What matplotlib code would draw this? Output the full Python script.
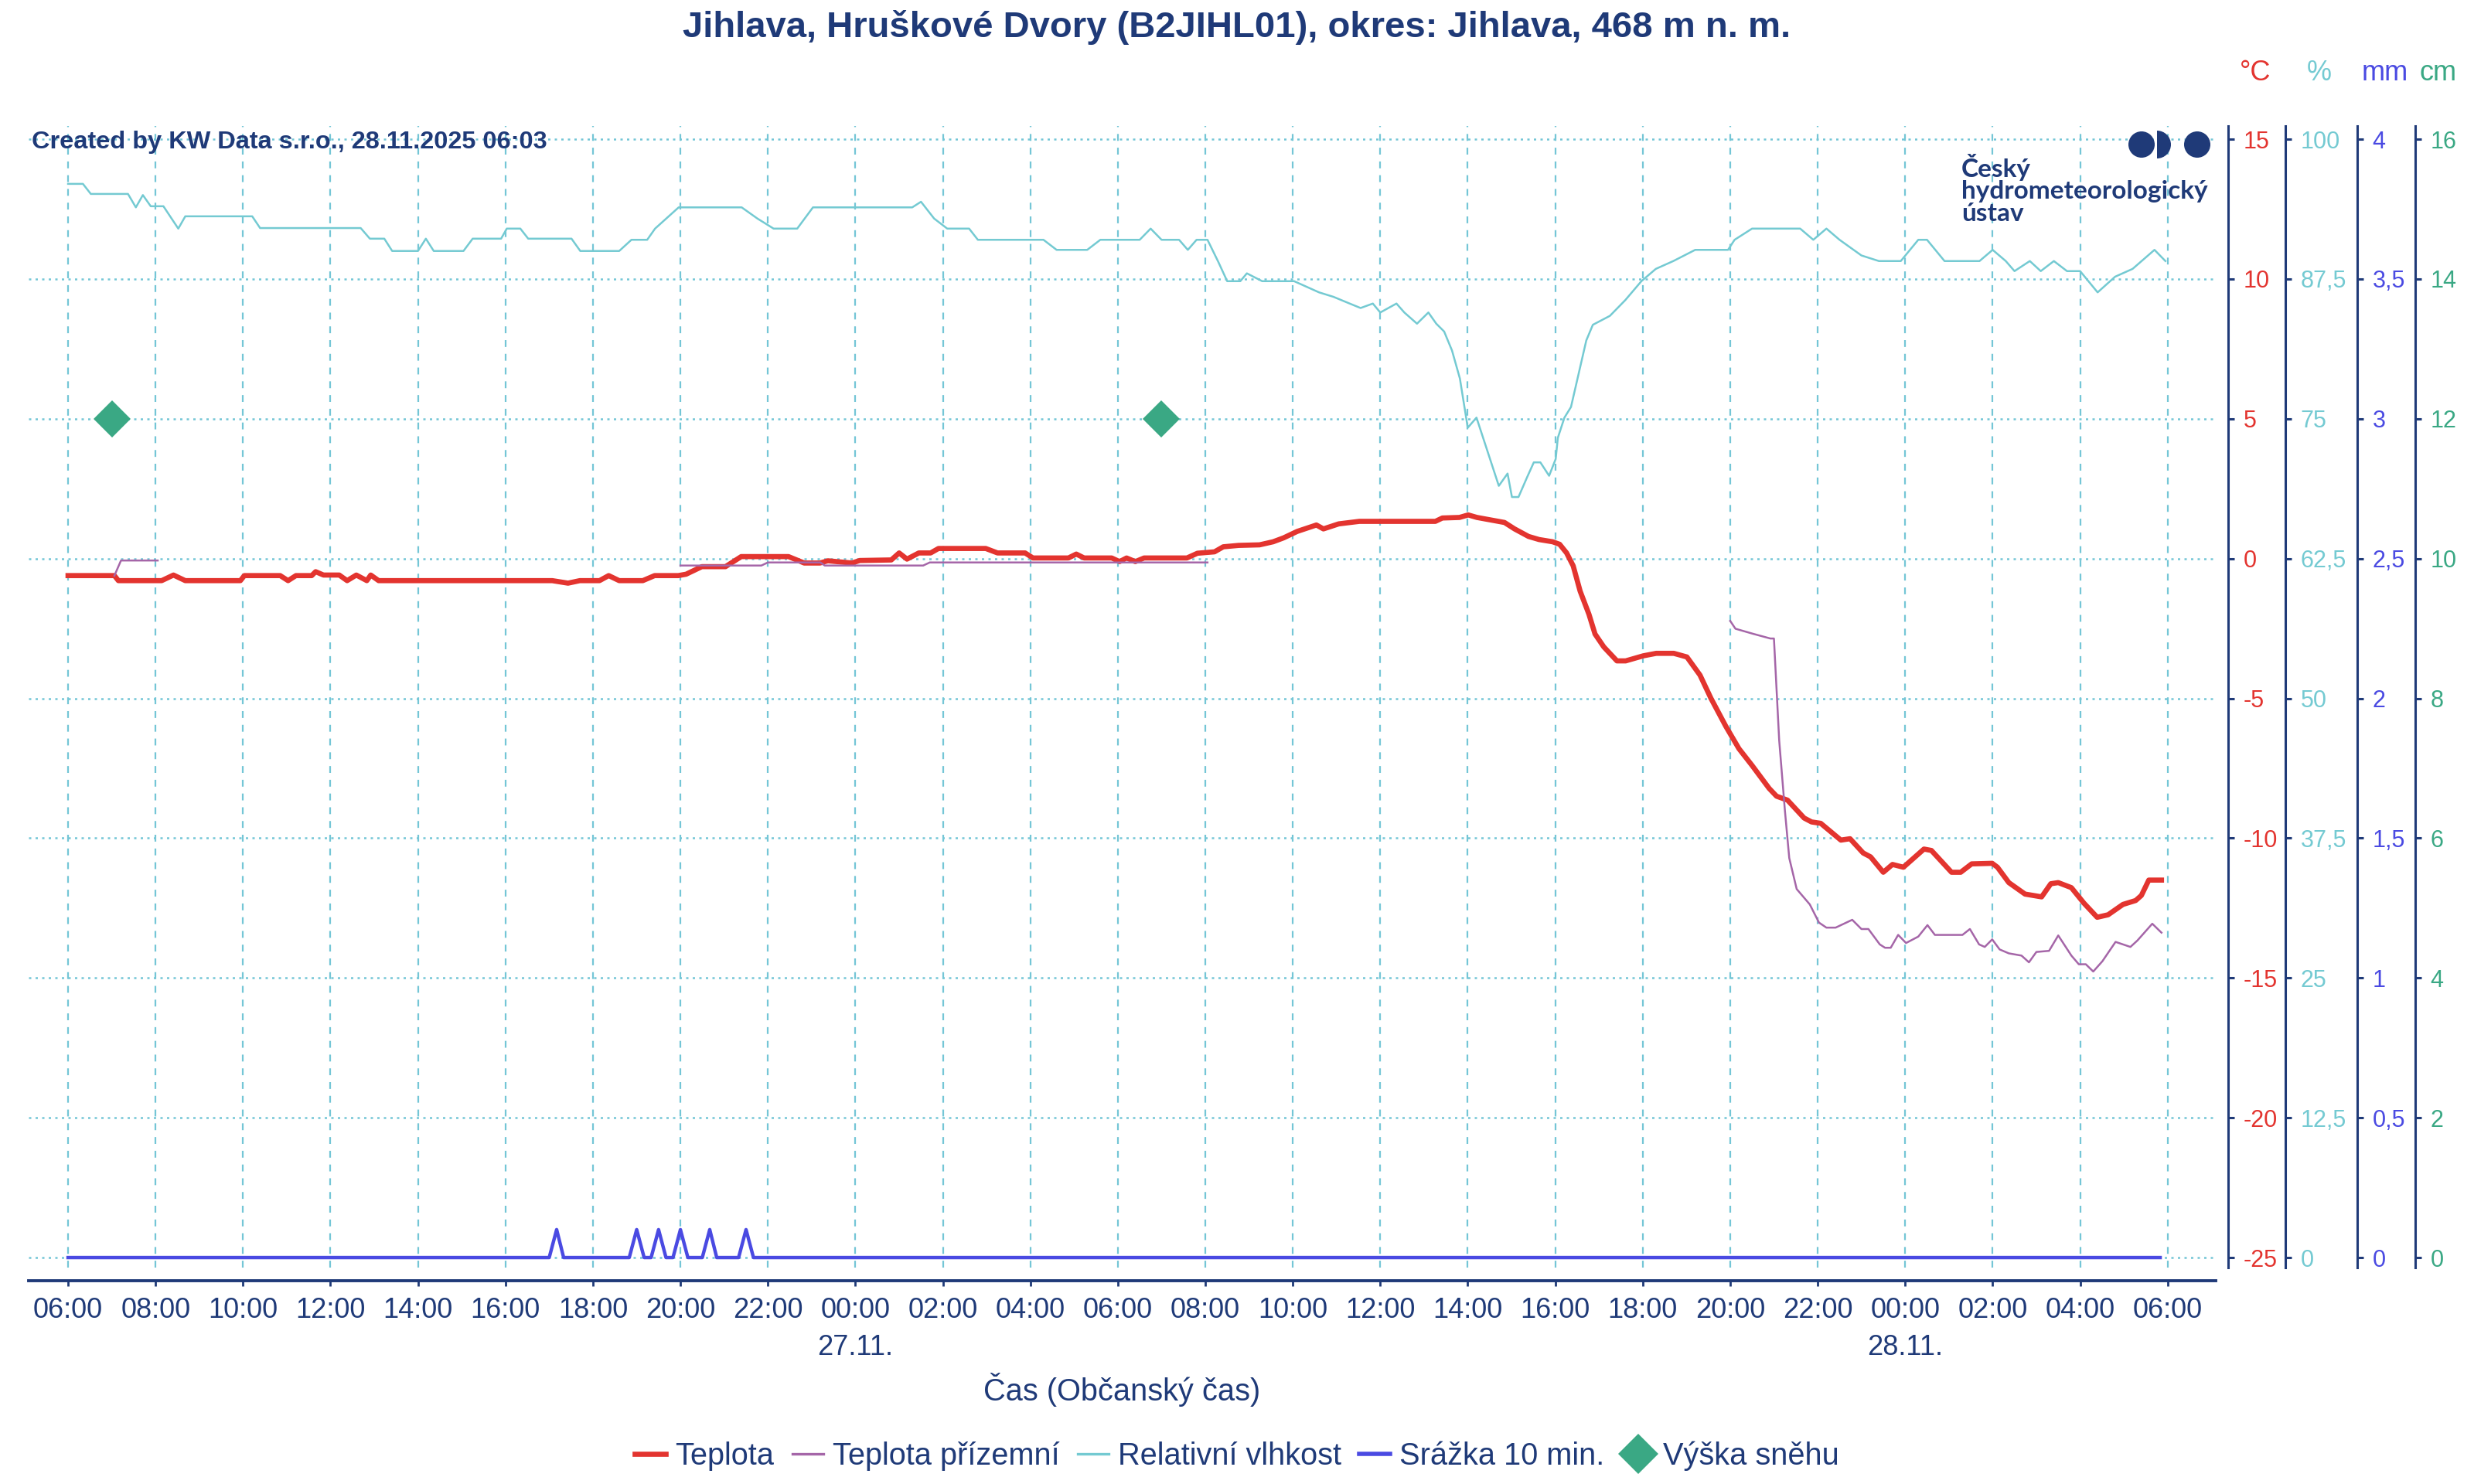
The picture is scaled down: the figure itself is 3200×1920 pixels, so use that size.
import numpy as np
import matplotlib.pyplot as plt
from matplotlib.patches import Circle, Wedge
from matplotlib.lines import Line2D
from matplotlib.ticker import FixedLocator, FuncFormatter

plt.rcParams['font.family'] = ['Liberation Sans', 'DejaVu Sans']

# time axis: hours since 26.11. 06:00
nan = float('nan')

temp_h = [0.0, 1.06, 1.15, 2.14, 2.41, 2.68, 3.94, 4.03, 4.85, 5.03, 5.21, 5.57, 5.66, 5.84, 6.20,
          6.38, 6.59, 6.83, 6.92, 7.10, 11.07, 11.43, 11.70, 12.15, 12.36, 12.60, 13.14, 13.41, 13.95,
          14.13, 14.49, 15.03, 15.39, 16.47, 16.83, 17.19, 17.37, 17.92, 18.10, 18.82, 19.00, 19.18,
          19.45, 19.72, 19.90, 20.98, 21.25, 21.88, 22.06, 22.87, 23.05, 23.23, 23.86, 24.04, 24.2,
          24.4, 24.6, 24.94, 25.58, 25.82, 26.21, 26.41, 26.76, 27.24, 27.55, 27.79, 28.10, 28.54,
          28.70, 29.05, 29.52, 31.26, 31.42, 31.81, 32.01, 32.21, 32.52, 32.84, 33.07, 33.39, 33.63,
          33.94, 34.10, 34.26, 34.41, 34.57, 34.77, 34.91, 35.11, 35.41, 35.61, 36.01, 36.31, 36.71,
          37.01, 37.31, 37.56, 37.9, 38.2, 38.5, 38.89, 39.06, 39.31, 39.69, 39.86, 40.07, 40.53,
          40.74, 41.04, 41.21, 41.50, 41.71, 41.96, 42.43, 42.60, 43.06, 43.27, 43.52, 43.99, 44.11,
          44.37, 44.74, 45.12, 45.33, 45.50, 45.80, 46.09, 46.39, 46.64, 46.98, 47.27, 47.40, 47.57,
          47.86]
temp_c = [-0.61, -0.61, -0.79, -0.79, -0.59, -0.79, -0.79, -0.61, -0.61, -0.79, -0.61, -0.61, -0.47,
          -0.59, -0.59, -0.79, -0.59, -0.79, -0.59, -0.79, -0.79, -0.88, -0.79, -0.79, -0.61, -0.79,
          -0.79, -0.61, -0.61, -0.56, -0.29, -0.29, 0.07, 0.07, -0.16, -0.16, -0.08, -0.16, -0.07,
          -0.05, 0.20, -0.02, 0.20, 0.20, 0.36, 0.36, 0.20, 0.20, 0.02, 0.02, 0.16, 0.02, 0.02, -0.11,
          0.02, -0.11, 0.02, 0.02, 0.02, 0.19, 0.24, 0.42, 0.47, 0.49, 0.60, 0.74, 0.97, 1.20, 1.06,
          1.24, 1.33, 1.33, 1.45, 1.47, 1.56, 1.47, 1.38, 1.29, 1.06, 0.79, 0.68, 0.60, 0.51, 0.20,
          -0.26, -1.17, -1.99, -2.70, -3.16, -3.66, -3.66, -3.48, -3.39, -3.39, -3.52, -4.17, -5.0,
          -6.0, -6.8, -7.4, -8.22, -8.5, -8.64, -9.28, -9.42, -9.47, -10.07, -10.02, -10.53, -10.67,
          -11.22, -10.94, -11.04, -10.39, -10.44, -11.22, -11.22, -10.92, -10.9, -11.04, -11.59,
          -12.0, -12.1, -11.63, -11.59, -11.77, -12.33, -12.83, -12.74, -12.37, -12.23, -12.05,
          -11.5, -11.5]

ground_h = [1.06, 1.21, 2.05, nan,
            14.0, 15.85, 16.0, 17.2, 17.3, 19.55, 19.7, 26.05, nan,
            38.0, 38.12, 38.52, 38.92, 39.0, 39.12, 39.25, 39.35, 39.52, 39.82, 40.03, 40.2, 40.41,
            40.79, 41.0, 41.16, 41.42, 41.54, 41.67, 41.84, 42.02, 42.30, 42.51, 42.68, 43.31, 43.48,
            43.69, 43.82, 43.99, 44.16, 44.37, 44.66, 44.83, 45.0, 45.29, 45.50, 45.80, 45.97, 46.13,
            46.30, 46.51, 46.81, 46.98, 47.15, 47.31, 47.65, 47.86]
ground_c = [-0.61, -0.07, -0.07, nan,
            -0.25, -0.25, -0.14, -0.14, -0.25, -0.25, -0.14, -0.14, nan,
            -2.23, -2.51, -2.69, -2.86, -2.86, -6.5, -9.0, -10.71, -11.82, -12.37, -13.02, -13.2,
            -13.2, -12.92, -13.25, -13.25, -13.8, -13.92, -13.92, -13.46, -13.75, -13.52, -13.11,
            -13.46, -13.46, -13.25, -13.8, -13.89, -13.62, -13.98, -14.12, -14.2, -14.44, -14.07,
            -14.03, -13.48, -14.2, -14.51, -14.51, -14.77, -14.4, -13.71, -13.8, -13.89, -13.66,
            -13.06, -13.38]

hum_h = [0, 0.34, 0.52, 1.37, 1.55, 1.71, 1.89, 2.18, 2.52, 2.68, 4.21, 4.39, 6.69, 6.90, 7.23,
         7.41, 8.0, 8.18, 8.36, 9.04, 9.25, 9.9, 10.03, 10.34, 10.52, 11.51, 11.71, 12.6, 12.88,
         13.24, 13.42, 13.96, 15.4, 15.76, 16.13, 16.67, 17.03, 19.3, 19.5, 19.8, 20.1, 20.6, 20.8,
         22.3, 22.6, 23.3, 23.6, 24.5, 24.75, 25.0, 25.4, 25.6, 25.8, 26.05, 26.3, 26.5, 26.8, 26.95,
         27.3, 28.03, 28.6, 28.93, 29.3, 29.55, 29.83, 30.0, 30.37, 30.55, 30.84, 31.1, 31.28, 31.46,
         31.64, 31.82, 32.0, 32.2, 32.71, 32.91, 33.01, 33.16, 33.36, 33.51, 33.66, 33.86, 34.01,
         34.06, 34.21, 34.36, 34.71, 34.86, 35.25, 35.6, 35.97, 36.3, 36.7, 37.2, 37.95, 38.1, 38.5,
         39.6, 39.9, 40.2, 40.5, 41.0, 41.4, 41.9, 42.3, 42.5, 42.9, 43.7, 44.0, 44.3, 44.5, 44.85,
         45.1, 45.4, 45.7, 46.0, 46.4, 46.8, 47.2, 47.7, 47.95]
hum_pct = [96.0, 96.0, 95.1, 95.1, 93.9, 95.0, 94.0, 94.0, 92.0, 93.1, 93.1, 92.05, 92.05, 91.1,
           91.1, 90.0, 90.0, 91.1, 90.0, 90.0, 91.1, 91.1, 92.0, 92.0, 91.1, 91.1, 90.0, 90.0, 91.0,
           91.0, 92.0, 93.9, 93.9, 92.9, 92.0, 92.0, 93.9, 93.9, 94.4, 92.9, 92.0, 92.0, 91.0, 91.0,
           90.1, 90.1, 91.0, 91.0, 92.0, 91.0, 91.0, 90.1, 91.0, 91.0, 89.0, 87.3, 87.3, 88.0, 87.3,
           87.3, 86.3, 85.9, 85.3, 84.9, 85.3, 84.5, 85.3, 84.5, 83.5, 84.5, 83.5, 82.8, 81.1, 78.6,
           74.2, 75.1, 69.0, 70.1, 68.0, 68.0, 69.8, 71.1, 71.1, 69.9, 71.4, 73.3, 75.1, 76.05, 82.0,
           83.4, 84.2, 85.6, 87.3, 88.4, 89.1, 90.1, 90.1, 91.0, 92.0, 92.0, 91.0, 92.0, 91.0, 89.6,
           89.1, 89.1, 91.0, 91.0, 89.1, 89.1, 90.1, 89.1, 88.2, 89.1, 88.2, 89.1, 88.2, 88.2, 86.3,
           87.7, 88.4, 90.1, 89.1]

precip_h = [0, 11.0, 11.17, 11.33, 12.83, 13.0, 13.17, 13.33, 13.5, 13.67, 13.83, 14.0, 14.17,
            14.5, 14.67, 14.83, 15.33, 15.5, 15.67, 47.83]
precip_mm = [0, 0, 0.1, 0, 0, 0.1, 0, 0, 0.1, 0, 0, 0.1, 0, 0, 0.1, 0, 0, 0.1, 0, 0]

snow_h = [1.0, 25.0]
snow_cm = [12, 12]

tick_h = list(range(0, 49, 2))
tick_labels = [f"{(6 + h) % 24:02d}:00" for h in tick_h]
date_h = [18, 42]
date_labels = ['27.11.', '28.11.']

temp_ticks = [-25, -20, -15, -10, -5, 0, 5, 10, 15]
pct_ticks = [0, 12.5, 25, 37.5, 50, 62.5, 75, 87.5, 100]
mm_ticks = [0, 0.5, 1, 1.5, 2, 2.5, 3, 3.5, 4]
cm_ticks = [0, 2, 4, 6, 8, 10, 12, 14, 16]

NAVY = '#1f3a78'
RED = '#e3342f'
PURPLE = '#a566a8'
CYAN = '#74cad2'
BLUE = '#4a4ae2'
GREEN = '#3aa884'
GRID = '#74c6d6'

fig = plt.figure(figsize=(16, 9.6), dpi=200)
ax = fig.add_axes([0.0116, 0.1458, 0.8840, 0.7693])
t_lo, t_hi = -25.36, 15.47
ax.set_xlim(-0.9, 49.1)
ax.set_ylim(t_lo, t_hi)

ax_pct = ax.twinx()
ax_mm = ax.twinx()
ax_cm = ax.twinx()
ax_pct.set_ylim((t_lo + 25) * 2.5, (t_hi + 25) * 2.5)
ax_mm.set_ylim((t_lo + 25) * 0.1, (t_hi + 25) * 0.1)
ax_cm.set_ylim((t_lo + 25) * 0.4, (t_hi + 25) * 0.4)

comma = FuncFormatter(lambda v, p: f"{v:g}".replace('.', ','))


def style_right(a, offset, color, ticks):
    for s in a.spines.values():
        s.set_visible(False)
    a.spines['right'].set_visible(True)
    a.spines['right'].set_position(('outward', offset))
    a.spines['right'].set_color(NAVY)
    a.spines['right'].set_linewidth(1.1)
    a.yaxis.set_ticks_position('right')
    a.yaxis.set_major_locator(FixedLocator(ticks))
    a.yaxis.set_major_formatter(comma)
    a.tick_params(axis='y', which='both', colors=NAVY, labelcolor=color,
                  length=3, width=1.1, pad=4, labelsize=11)


style_right(ax, 5.8, RED, temp_ticks)
style_right(ax_pct, 32.4, CYAN, pct_ticks)
style_right(ax_mm, 65.9, BLUE, mm_ticks)
style_right(ax_cm, 92.9, GREEN, cm_ticks)

ax.spines['bottom'].set_visible(True)
ax.spines['bottom'].set_position(('outward', 6.1))
ax.spines['bottom'].set_color(NAVY)
ax.spines['bottom'].set_linewidth(1.4)
ax.set_xticks(tick_h)
ax.set_xticklabels(tick_labels)
ax.tick_params(axis='x', colors=NAVY, labelcolor=NAVY, length=2.5, width=1.0,
               pad=5, labelsize=13)

ax.xaxis.grid(True, color=GRID, linestyle=(0, (4, 4)), linewidth=0.8)
ax.yaxis.grid(True, color=GRID, linestyle=(0, (1.2, 2.2)), linewidth=0.9)
ax.set_axisbelow(True)

for h, lab in zip(date_h, date_labels):
    ax.text(h, -0.0697, lab, transform=ax.get_xaxis_transform(), ha='center',
            va='center', color=NAVY, fontsize=13)
ax.set_xlabel('Čas (Občanský čas)', color=NAVY, fontsize=14.3, va='center')
ax.xaxis.set_label_coords(0.5, -0.107)

# series
ax.plot(temp_h, temp_c, color=RED, lw=2.4, solid_joinstyle='round', zorder=3)
ax.plot(ground_h, ground_c, color=PURPLE, lw=0.9, zorder=4)
ax_pct.plot(hum_h, hum_pct, color=CYAN, lw=0.9)
ax_mm.plot(precip_h, precip_mm, color=BLUE, lw=1.6)
ax_cm.plot(snow_h, snow_cm, linestyle='none', marker='D', markersize=12,
           color=GREEN, markeredgewidth=0)

# texts
fig.text(0.5, 1 - 35 / 1920, 'Jihlava, Hruškové Dvory (B2JIHL01), okres: Jihlava, 468 m n. m.',
         ha='center', va='center', fontsize=17, fontweight='bold', color=NAVY)
fig.text(41 / 3200, 1 - 184 / 1920, 'Created by KW Data s.r.o., 28.11.2025 06:03',
         ha='left', va='center', fontsize=11.7, fontweight='bold', color=NAVY)
for x, lab, c in [(2917, '°C', RED), (3000, '%', CYAN), (3085, 'mm', BLUE), (3154, 'cm', GREEN)]:
    fig.text(x / 3200, 1 - 95 / 1920, lab, ha='center', va='center', fontsize=13, color=c)

# logo
ov = fig.add_axes([0, 0, 1, 1])
ov.set_xlim(0, 3200)
ov.set_ylim(1920, 0)
ov.axis('off')
ov.add_patch(Circle((2770, 187), 17, color=NAVY, lw=0))
ov.add_patch(Wedge((2790, 187), 18, -90, 90, color=NAVY, lw=0))
ov.add_patch(Circle((2842, 187), 17, color=NAVY, lw=0))
for y, line in [(216, 'Český'), (248, 'hydrometeorologický'), (277, 'ústav')]:
    ov.text(2537, y, line, ha='left', va='center', fontsize=12, fontweight='bold',
            color=NAVY, family=['Lato', 'DejaVu Sans'])

handles = [Line2D([], [], color=RED, lw=2.4),
           Line2D([], [], color=PURPLE, lw=1.2),
           Line2D([], [], color=CYAN, lw=1.2),
           Line2D([], [], color=BLUE, lw=2.0),
           Line2D([], [], linestyle='none', marker='D', markersize=13, color=GREEN,
                  markeredgewidth=0)]
labels = ['Teplota', 'Teplota přízemní', 'Relativní vlhkost', 'Srážka 10 min.', 'Výška sněhu']
fig.legend(handles, labels, loc='center', bbox_to_anchor=(0.5, 1 - 1884 / 1920), ncol=5,
           frameon=False, fontsize=14.3, handlelength=1.0, handletextpad=0.3,
           columnspacing=0.6, labelcolor=NAVY)

fig.savefig('out.png', dpi=200)
